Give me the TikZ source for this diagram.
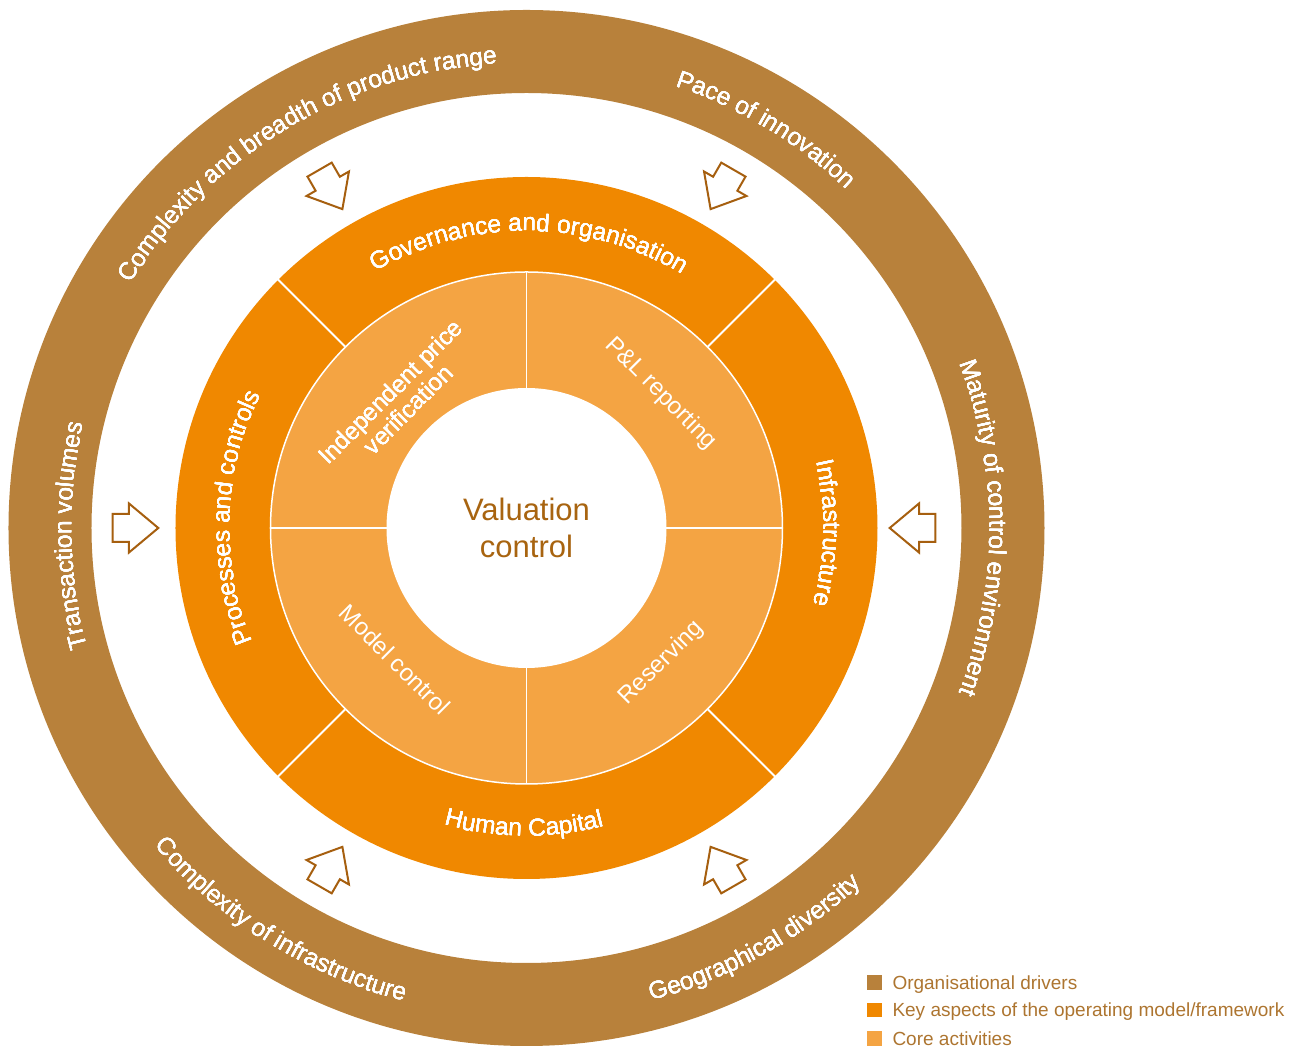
\documentclass[tikz,border=0pt]{standalone}
\usepackage{fontspec}
\setmainfont{Liberation Sans}
\usetikzlibrary{decorations.text}
\definecolor{ringbrown}{HTML}{B8813B}
\definecolor{ringorange}{HTML}{F08800}
\definecolor{ringlight}{HTML}{F4A443}
\definecolor{arrowbrown}{HTML}{A65F0F}
\definecolor{centrebrown}{HTML}{A86410}
\definecolor{legendbrown}{HTML}{AD7530}
% clockwise curved label: centre angle, baseline radius, half span, text
\newcommand{\cwlabel}[4]{%
  \path[decorate, decoration={text along path, text align=center, text color=white,
    text={|\fontsize{24.5}{28}\selectfont|#4}}]
    ({#1+#3}:#2) arc[start angle={#1+#3}, end angle={#1-#3}, radius=#2];}
% counter-clockwise curved label
\newcommand{\ccwlabel}[4]{%
  \path[decorate, decoration={text along path, text align=center, text color=white,
    text={|\fontsize{24.5}{28}\selectfont|#4}}]
    ({#1-#3}:#2) arc[start angle={#1-#3}, end angle={#1+#3}, radius=#2];}
% inward hollow arrow: angle, radius
\newcommand{\inarrow}[2]{%
  \begin{scope}[shift={(#1:#2)}, rotate=#1+180]
    \draw[arrowline] (-22.8pt,-14pt) -- (-6.5pt,-14pt) -- (-6.5pt,-24.5pt) -- (22.8pt,0pt)
      -- (-6.5pt,24.5pt) -- (-6.5pt,14pt) -- (-22.8pt,14pt) -- cycle;
  \end{scope}}
\begin{document}
\begin{tikzpicture}[
  arrowline/.style={draw=arrowbrown, fill=white, line width=2pt, line join=miter},
  divider/.style={white, line width=2pt},
  lighttext/.style={text=white, font=\fontsize{24}{25}\selectfont, align=center, inner sep=0pt},
  legendtext/.style={text=legendbrown, font=\fontsize{19}{22}\selectfont, anchor=base west, inner sep=0pt},
  legendbox/.style={minimum size=14.5pt, inner sep=0pt, outer sep=0pt}
]
\useasboundingbox (-526.5pt,-520pt) rectangle (775.5pt,528pt);
% outer ring
\fill[ringbrown, even odd rule] (0,0) circle[radius=518pt] (0,0) circle[radius=435pt];
% operating model ring
\fill[ringorange] (0,0) circle[radius=351pt];
\foreach \a in {45,135,225,315} \draw[divider] (\a:255pt) -- (\a:352pt);
% core activities ring
\fill[ringlight, draw=white, line width=1.5pt] (0,0) circle[radius=256pt];
\fill[white] (0,0) circle[radius=140pt];
\foreach \a in {0,90,180,270} \draw[white, line width=1.5pt] (\a:139pt) -- (\a:256pt);
% arrows
\inarrow{0}{386pt}
\foreach \a in {60,120,180,240,300} \inarrow{\a}{391pt}
% outer ring labels
\cwlabel{121}{465pt}{40}{Complexity and breadth of product range}
\cwlabel{59}{466pt}{25}{Pace of innovation}
\cwlabel{0}{463pt}{30}{Maturity of control environment}
\cwlabel{181}{455pt}{25}{Transaction volumes}
\ccwlabel{299}{489pt}{25}{Geographical diversity}
\ccwlabel{238}{489pt}{25}{Complexity of infrastructure}
% middle ring labels
\cwlabel{89.5}{297pt}{40}{Governance and organisation}
\cwlabel{-1}{297pt}{30}{Infrastructure}
\cwlabel{178}{297pt}{35}{Processes and controls}
\ccwlabel{269.5}{308pt}{30}{Human Capital}
% core activity labels
\node[lighttext, rotate=45] (ipv) at (135:180pt) {Independent price\\verification};
\node[lighttext, rotate=-45] (pl) at (45:190pt) {P\&L reporting};
\node[lighttext, rotate=45] (res) at (315:191pt) {Reserving};
\node[lighttext, rotate=-45] (mc) at (225:186pt) {Model control};
% centre
\node[text=centrebrown, font=\fontsize{31}{37}\selectfont, align=center] (vc) at (0,0) {Valuation\\control};
% legend
\node[legendbox, fill=ringbrown] (lb1) at (348pt,-454.4pt) {};
\node[legendbox, fill=ringorange] (lb2) at (348pt,-482pt) {};
\node[legendbox, fill=ringlight] (lb3) at (348pt,-510.4pt) {};
\node[legendtext] (lt1) at (365.8pt,-461.5pt) {Organisational drivers};
\node[legendtext] (lt2) at (365.8pt,-489pt) {Key aspects of the operating model/framework};
\node[legendtext] (lt3) at (365.8pt,-517.5pt) {Core activities};
\end{tikzpicture}
\end{document}
